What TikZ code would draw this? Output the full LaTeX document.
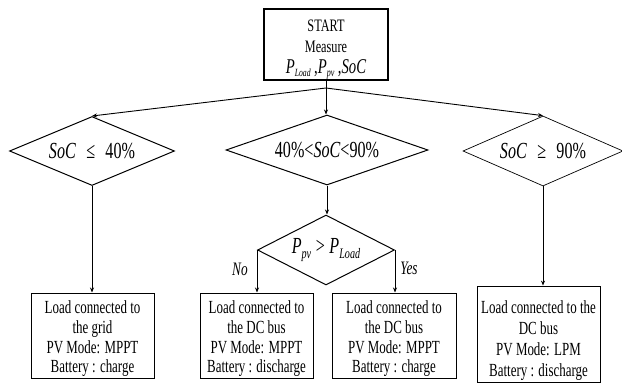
\documentclass[tikz,border=0pt]{standalone}
\usepackage{fontspec}
\setmainfont{Liberation Serif}[FakeStretch=0.7]
\usetikzlibrary{shapes.geometric,arrows.meta}
\newcommand\Vsub[4]{\textit{#1}\raisebox{-#4pt}{\fontsize{#3}{#3}\selectfont\itshape #2}}
\begin{document}
\begin{tikzpicture}[x=1pt,y=-1pt,
  box/.style={draw, line width=1pt, inner sep=0pt, align=center, font=\fontsize{18.5}{19.8}\selectfont},
  dec/.style={draw, diamond, line width=1pt, inner sep=0pt, aspect=2, font=\fontsize{23}{24}\selectfont},
  arr/.style={-{Stealth[length=5pt,width=4pt]}, line width=0.9pt},
  ln/.style={line width=0.9pt},
  lbl/.style={font=\fontsize{19}{20}\selectfont\itshape, inner sep=0pt}]
\useasboundingbox (0,0) rectangle (622,383);
\node[box, line width=1.3pt, minimum width=124pt, minimum height=71pt, font=\fontsize{17.5}{21}\selectfont] (start) at (326,44.5)
  {\rule{0pt}{21pt}START\\Measure\\ {\fontsize{21}{21}\selectfont\Vsub{P}{Load}{11}{3.5}\,,\Vsub{P}{pv}{11.5}{3.5}\,,\textit{SoC}}};
\node[dec, minimum width=165pt, minimum height=69pt] (d1) at (92,151)
  {\makebox[0pt]{\textit{SoC}\hspace{0.45em}≤\hspace{0.45em}40\%}};
\node[dec, minimum width=202pt, minimum height=70pt] (d2) at (327,150)
  {\makebox[0pt]{40\%<\textit{SoC}<90\%}};
\node[dec, line width=0.7pt, minimum width=160pt, minimum height=70pt] (d3) at (543,151)
  {\makebox[0pt]{\textit{SoC}\hspace{0.45em}≥\hspace{0.45em}90\%}};
\node[dec, minimum width=137pt, minimum height=70pt] (d4) at (326,250)
  {\makebox[0pt]{\Vsub{P}{pv}{14.5}{5}\hspace{0.2em}>\hspace{0.2em}\Vsub{P}{Load}{14.5}{5}}};
\node[box, minimum width=123pt, minimum height=85pt] (b1) at (92.5,335.5)
  {\rule{0pt}{19.5pt}Load connected to\\the grid\\PV Mode: MPPT\\Battery : charge};
\node[box, minimum width=113pt, minimum height=85pt] (b2) at (256.5,335.5)
  {\rule{0pt}{19.5pt}Load connected to\\the DC bus\\PV Mode: MPPT\\Battery : discharge};
\node[box, minimum width=124pt, minimum height=85pt] (b3) at (394,335.5)
  {\rule{0pt}{19.5pt}Load connected to\\the DC bus\\PV Mode: MPPT\\Battery : charge};
\node[box, line width=0.8pt, minimum width=123pt, minimum height=96pt, font=\fontsize{18.5}{21}\selectfont] (b4) at (538.5,334)
  {\rule{0pt}{26.5pt}Load connected to the\\DC bus\\PV Mode: LPM\\Battery : discharge};
\node[lbl] (no) at (240,269) {No};
\node[lbl] (yes) at (409,268) {Yes};
\coordinate (J) at (326,88);
\draw[ln] (start.south) -- (J);
\draw[arr] (J) -- (d1.north);
\draw[arr] (J) -- (d2.north -| J);
\draw[arr] (J) -- (d3.north);
\draw[arr] (d1.south) -- (d1.south |- b1.north);
\draw[arr] (d2.south) -- (d2.south |- d4.north);
\draw[arr] (d3.south) -- (d3.south |- b4.north);
\draw[arr] (d4.west) -- (d4.west |- b2.north);
\draw[arr] (d4.east) -- (d4.east |- b3.north);
\end{tikzpicture}
\end{document}
